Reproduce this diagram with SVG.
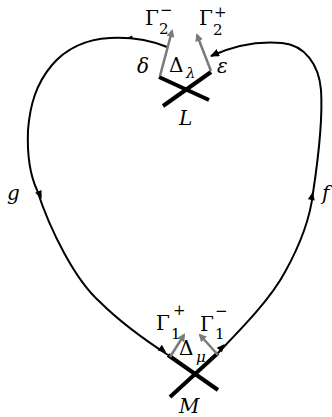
<svg xmlns="http://www.w3.org/2000/svg" width="332" height="417" viewBox="0 0 332 417">
<defs>
<style>
.curve{fill:none;stroke:#000;stroke-width:2}
.cross{fill:none;stroke:#000;stroke-width:4}
.gray{fill:none;stroke:#7a7a7a;stroke-width:2.5}
text{font-family:"DejaVu Serif","Liberation Serif",serif;fill:#000}
.it{font-style:italic}
.big{font-size:20px}
.sm{font-size:15px}
</style>
<marker id="ga" markerWidth="8" markerHeight="8" refX="6" refY="4" orient="auto" markerUnits="userSpaceOnUse">
<path d="M0,0 L8,4 L0,8 Z" fill="#7a7a7a"/>
</marker>
<marker id="ba" markerWidth="9" markerHeight="8" refX="8" refY="4" orient="auto" markerUnits="userSpaceOnUse">
<path d="M0,0 L9,4 L0,8 Z" fill="#000"/>
</marker>
<path id="midarrow" d="M-4,-3.5 L4,0 L-4,3.5 Z" fill="#000"/>
</defs>
<rect width="332" height="417" fill="#fff"/>
<g id="connectors">
<path class="curve" d="M167,47 C150,40 130,37 110,38 C85,39 65,50 52,65 C36,84 30,105 28,130 C27,155 30,175 37,190 C50,230 75,280 100,302 C120,322 145,340 168,355"/>
<path class="curve" marker-end="url(#ba)" d="M217,354 C240,330 270,300 285,272 C300,245 310,220 313,193 C318,160 323,120 321,90 C319,65 305,45 282,43 C260,41 235,45 211,56"/>
<use href="#midarrow" transform="translate(40,195) rotate(65)"/>
<use href="#midarrow" transform="translate(312,196) rotate(-80)"/>
<use href="#midarrow" transform="translate(163,350) rotate(37)"/>
<use href="#midarrow" transform="translate(222,347) rotate(-48)"/>
<use href="#midarrow" transform="translate(130,37.5) rotate(180) scale(0.6)"/>
</g>
<g id="L">
<line class="cross" x1="159" y1="77" x2="209" y2="100"/>
<line class="cross" x1="211" y1="72" x2="163" y2="106"/>
<line class="gray" marker-end="url(#ga)" x1="160" y1="76" x2="172" y2="31"/>
<line class="gray" marker-end="url(#ga)" x1="211" y1="71" x2="197" y2="35"/>
<text class="it big" x="179" y="125">L</text>
<text class="it big" x="137" y="73">δ</text>
<text class="it big" x="217" y="73">ε</text>
<text class="big" x="169" y="72">Δ</text><text class="it sm" x="186" y="78">λ</text>
<text class="big" x="145" y="25">Γ</text><text class="sm" x="159" y="34">2</text><text class="sm" x="160" y="15">−</text>
<text class="big" x="199" y="25">Γ</text><text class="sm" x="213" y="35">2</text><text class="sm" x="214" y="17">+</text>
</g>
<g id="M">
<line class="cross" x1="168" y1="355" x2="218" y2="390"/>
<line class="cross" x1="218" y1="353" x2="170" y2="397"/>
<line class="gray" marker-end="url(#ga)" x1="170" y1="357" x2="184" y2="335"/>
<line class="gray" marker-end="url(#ga)" x1="218" y1="355" x2="200" y2="335"/>
<text class="it big" x="179" y="413">M</text>
<text class="big" x="179" y="355">Δ</text><text class="it sm" x="196" y="362">μ</text>
<text class="big" x="156" y="330">Γ</text><text class="sm" x="171" y="339">1</text><text class="sm" x="173" y="315">+</text>
<text class="big" x="200" y="331">Γ</text><text class="sm" x="215" y="339">1</text><text class="sm" x="215" y="316">−</text>
</g>
<g id="g">
<text class="it big" x="7" y="200">g</text>
</g>
<g id="f">
<text class="it big" x="322" y="200">f</text>
</g>
</svg>
